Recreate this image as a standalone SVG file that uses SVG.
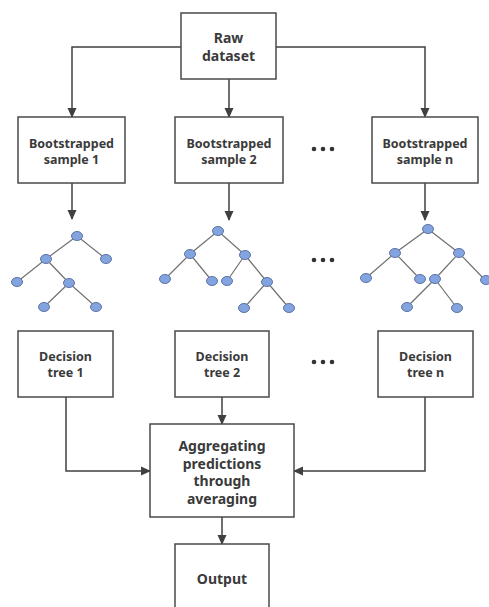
<svg xmlns="http://www.w3.org/2000/svg" width="489" height="607" viewBox="0 0 489 607">
<defs>
<marker id="ah" markerWidth="10" markerHeight="10" refX="9" refY="5" orient="auto" markerUnits="userSpaceOnUse">
<path d="M0,0.5 L10,5 L0,9.5 Z" fill="#404040"/>
</marker>
</defs>
<style>
.box{fill:#fff;stroke:#4a4a4a;stroke-width:1.5}
.t{font-family:"Noto Sans","Open Sans","DejaVu Sans",sans-serif;font-weight:bold;font-size:12.5px;fill:#3a3a3a;text-anchor:middle}
.tl{font-size:14px}
.c{fill:none;stroke:#404040;stroke-width:1.5;marker-end:url(#ah)}
.e{stroke:#707070;stroke-width:1.2}
.n ellipse{fill:#84a4e0;stroke:#5d75a8;stroke-width:1;rx:5.5px;ry:4.5px}
.dots{fill:#333}
</style>
<rect width="489" height="607" fill="#fff"/>
<g id="connectors">
<path class="c" d="M181,47 H72 V117"/>
<path class="c" d="M229,79 V117"/>
<path class="c" d="M276,47 H425 V117"/>
<path class="c" d="M72,183 V219"/>
<path class="c" d="M229,183 V220"/>
<path class="c" d="M425,183 V220"/>
<path class="c" d="M66,397 V471 H150"/>
<path class="c" d="M222,397 V424"/>
<path class="c" d="M425,397 V471 H294"/>
<path class="c" d="M222,517 V544"/>
</g>
<g id="raw">
<rect class="box" x="181" y="13" width="95" height="66"/>
<text class="t tl" x="228.5" y="43">Raw</text>
<text class="t tl" x="228.5" y="61">dataset</text>
</g>
<g id="bs1">
<rect class="box" x="18" y="117" width="107" height="66"/>
<text class="t" x="71.5" y="148">Bootstrapped</text>
<text class="t" x="71.5" y="164">sample 1</text>
</g>
<g id="bs2">
<rect class="box" x="175" y="117" width="108" height="66"/>
<text class="t" x="229" y="148">Bootstrapped</text>
<text class="t" x="229" y="164">sample 2</text>
</g>
<g id="bsn">
<rect class="box" x="372" y="117" width="106" height="66"/>
<text class="t" x="425" y="148">Bootstrapped</text>
<text class="t" x="425" y="164">sample n</text>
</g>
<g id="dots1" class="dots"><circle cx="314" cy="149" r="2.3"/><circle cx="323" cy="149" r="2.3"/><circle cx="332" cy="149" r="2.3"/></g>
<g id="tree1">
<g class="e">
<line x1="77" y1="236" x2="46" y2="259"/><line x1="77" y1="236" x2="106" y2="259"/>
<line x1="46" y1="259" x2="17" y2="282"/><line x1="46" y1="259" x2="69" y2="283"/>
<line x1="69" y1="283" x2="44" y2="307"/><line x1="69" y1="283" x2="96" y2="307"/>
</g>
<g class="n">
<ellipse cx="77" cy="236" rx="5.5" ry="4.5"/><ellipse cx="46" cy="259" rx="5.5" ry="4.5"/><ellipse cx="106" cy="259" rx="5.5" ry="4.5"/>
<ellipse cx="17" cy="282" rx="5.5" ry="4.5"/><ellipse cx="69" cy="283" rx="5.5" ry="4.5"/><ellipse cx="44" cy="307" rx="5.5" ry="4.5"/><ellipse cx="96" cy="307" rx="5.5" ry="4.5"/>
</g>
</g>
<g id="tree2">
<g class="e">
<line x1="218" y1="231" x2="190" y2="254"/><line x1="218" y1="231" x2="245" y2="255"/>
<line x1="190" y1="254" x2="165" y2="279"/><line x1="190" y1="254" x2="212" y2="281"/>
<line x1="245" y1="255" x2="227" y2="281"/><line x1="245" y1="255" x2="267" y2="282"/>
<line x1="267" y1="282" x2="244" y2="308"/><line x1="267" y1="282" x2="289" y2="308"/>
</g>
<g class="n">
<ellipse cx="218" cy="231" rx="5.5" ry="4.5"/><ellipse cx="190" cy="254" rx="5.5" ry="4.5"/><ellipse cx="245" cy="255" rx="5.5" ry="4.5"/>
<ellipse cx="165" cy="279" rx="5.5" ry="4.5"/><ellipse cx="212" cy="281" rx="5.5" ry="4.5"/><ellipse cx="227" cy="281" rx="5.5" ry="4.5"/><ellipse cx="267" cy="282" rx="5.5" ry="4.5"/>
<ellipse cx="244" cy="308" rx="5.5" ry="4.5"/><ellipse cx="289" cy="308" rx="5.5" ry="4.5"/>
</g>
</g>
<g id="dots2" class="dots"><circle cx="314" cy="260" r="2.3"/><circle cx="323" cy="260" r="2.3"/><circle cx="332" cy="260" r="2.3"/></g>
<g id="treen">
<g class="e">
<line x1="428" y1="229" x2="395" y2="253"/><line x1="428" y1="229" x2="459" y2="253"/>
<line x1="395" y1="253" x2="366" y2="278"/><line x1="395" y1="253" x2="420" y2="279"/>
<line x1="459" y1="253" x2="435" y2="279"/><line x1="459" y1="253" x2="485" y2="280"/>
<line x1="435" y1="279" x2="407" y2="307"/><line x1="435" y1="279" x2="457" y2="308"/>
</g>
<g class="n">
<ellipse cx="428" cy="229" rx="5.5" ry="4.5"/><ellipse cx="395" cy="253" rx="5.5" ry="4.5"/><ellipse cx="459" cy="253" rx="5.5" ry="4.5"/>
<ellipse cx="366" cy="278" rx="5.5" ry="4.5"/><ellipse cx="420" cy="279" rx="5.5" ry="4.5"/><ellipse cx="435" cy="279" rx="5.5" ry="4.5"/><ellipse cx="486" cy="280" rx="5.5" ry="4.5"/>
<ellipse cx="407" cy="307" rx="5.5" ry="4.5"/><ellipse cx="457" cy="308" rx="5.5" ry="4.5"/>
</g>
</g>
<g id="dt1">
<rect class="box" x="18" y="331" width="95" height="66"/>
<text class="t" x="65.5" y="361">Decision</text>
<text class="t" x="65.5" y="377">tree 1</text>
</g>
<g id="dt2">
<rect class="box" x="175" y="331" width="94" height="66"/>
<text class="t" x="222" y="361">Decision</text>
<text class="t" x="222" y="377">tree 2</text>
</g>
<g id="dtn">
<rect class="box" x="378" y="331" width="95" height="66"/>
<text class="t" x="425.5" y="361">Decision</text>
<text class="t" x="425.5" y="377">tree n</text>
</g>
<g id="dots3" class="dots"><circle cx="314" cy="362" r="2.3"/><circle cx="323" cy="362" r="2.3"/><circle cx="332" cy="362" r="2.3"/></g>
<g id="agg">
<rect class="box" x="150" y="424" width="144" height="93"/>
<text class="t tl" x="222" y="451">Aggregating</text>
<text class="t tl" x="222" y="468.5">predictions</text>
<text class="t tl" x="222" y="486">through</text>
<text class="t tl" x="222" y="503.5">averaging</text>
</g>
<g id="output">
<rect class="box" x="175" y="544" width="94" height="70"/>
<text class="t tl" x="222" y="584">Output</text>
</g>
</svg>
